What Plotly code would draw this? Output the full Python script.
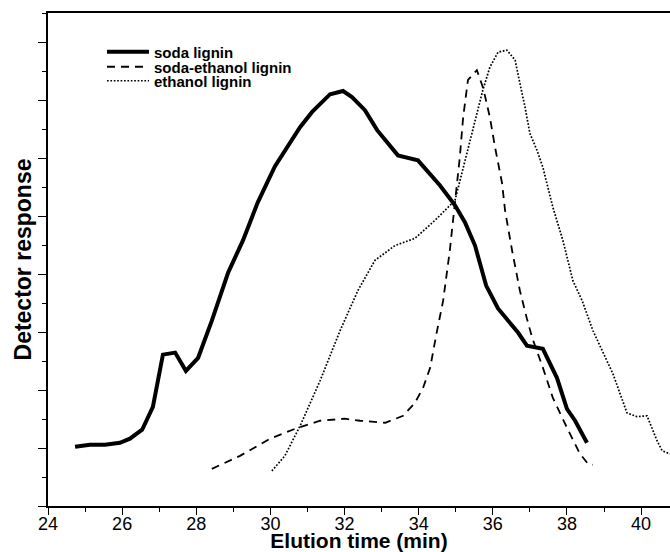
import plotly.graph_objects as go

# soda lignin
soda_x = [24.73, 25.13, 25.54, 25.94, 26.21, 26.54, 26.83, 27.10, 27.43, 27.72, 28.05, 28.42, 28.86,
          29.26, 29.66, 30.12, 30.80, 31.12, 31.61, 31.96, 32.20, 32.55, 32.88, 33.44, 33.98, 34.57,
          34.98, 35.25, 35.52, 35.82, 36.14, 36.68, 36.92, 37.35, 37.73, 38.00, 38.22, 38.54]
soda_y = [2.04, 2.11, 2.11, 2.18, 2.32, 2.63, 3.42, 5.22, 5.29, 4.66, 5.11, 6.39, 8.05,
          9.16, 10.47, 11.71, 13.06, 13.58, 14.20, 14.31, 14.10, 13.65, 12.96, 12.09, 11.92, 11.06,
          10.37, 9.78, 8.98, 7.60, 6.81, 5.98, 5.53, 5.42, 4.42, 3.35, 2.94, 2.18]

# soda-ethanol lignin
se_x = [28.42, 29.18, 29.99, 30.66, 31.34, 32.01, 32.42, 32.96, 33.10, 33.58, 33.90, 34.12, 34.31,
        34.48, 34.66, 34.84, 34.98, 35.11, 35.20, 35.33, 35.57, 35.74, 35.92, 36.06, 36.25, 36.33,
        36.52, 36.73, 36.92, 37.06, 37.35, 37.62, 38.00, 38.35, 38.57, 38.70]
se_y = [1.28, 1.73, 2.32, 2.66, 2.94, 3.01, 2.94, 2.87, 2.87, 3.11, 3.56, 4.08, 4.77,
        5.94, 7.08, 8.81, 10.54, 12.03, 13.41, 14.69, 15.03, 14.41, 13.41, 12.37, 11.13, 10.19,
        8.81, 7.43, 6.46, 5.81, 4.77, 3.73, 2.70, 1.80, 1.45, 1.42]

# ethanol lignin
et_x = [30.04, 30.39, 30.80, 31.34, 31.88, 32.36, 32.82, 33.36, 33.90, 34.44, 34.98, 35.19, 35.38,
        35.57, 35.73, 35.92, 36.14, 36.38, 36.60, 36.73, 36.87, 37.00, 37.19, 37.35, 37.62, 37.89,
        38.16, 38.41, 38.70, 39.24, 39.62, 39.89, 40.16, 40.43, 40.57, 40.78, 41.00]
et_y = [1.21, 1.73, 2.76, 4.32, 6.05, 7.43, 8.47, 8.98, 9.23, 9.85, 10.54, 11.58, 12.61,
        13.55, 14.34, 15.13, 15.65, 15.72, 15.38, 14.58, 13.75, 12.85, 12.27, 11.68, 10.30, 9.16,
        7.77, 7.08, 6.05, 4.56, 3.21, 3.08, 3.11, 2.25, 1.90, 1.80, 1.75]

x_ticks = [24, 26, 28, 30, 32, 34, 36, 38, 40]

fig = go.Figure()
fig.add_trace(go.Scatter(x=soda_x, y=soda_y, mode="lines", name="<b>soda lignin</b>",
                         line=dict(color="black", width=4), legend="legend"))
fig.add_trace(go.Scatter(x=se_x, y=se_y, mode="lines", name="<b>soda-ethanol lignin</b>",
                         line=dict(color="black", width=1.8, dash="8px,6px"), legend="legend2"))
fig.add_trace(go.Scatter(x=et_x, y=et_y, mode="lines", name="<b>ethanol lignin</b>",
                         line=dict(color="black", width=1.7, dash="1.7px,1.7px"), legend="legend3"))

fam = "Liberation Sans, Arial, sans-serif"
axis_font = dict(family=fam, size=18, color="black")
leg_common = dict(xanchor="left", yanchor="middle", font=dict(size=15, family=fam, color="black"),
                  bgcolor="rgba(0,0,0,0)", itemwidth=42)
fig.update_layout(
    width=670, height=552,
    margin=dict(l=48, r=0, t=13, b=46, autoexpand=False),
    paper_bgcolor="white", plot_bgcolor="white",
    font=dict(family=fam, color="black"),
    showlegend=True,
    legend=dict(x=0.0868, y=(506 - 52) / 493, **leg_common),
    legend2=dict(x=0.0868, y=(506 - 67) / 493, **leg_common),
    legend3=dict(x=0.0868, y=(506 - 81) / 493, **leg_common),
    xaxis=dict(range=[24, 40.78], tickvals=x_ticks, ticktext=[str(v) for v in x_ticks],
               showline=True, linecolor="black", linewidth=1.5, mirror=True, automargin=False,
               ticks="outside", ticklen=7, tickwidth=1.2, tickcolor="black", ticklabelstandoff=-6,
               minor=dict(dtick=1, ticks="outside", ticklen=4, tickwidth=1, tickcolor="black"),
               showgrid=False, zeroline=False, tickfont=axis_font,
               title=dict(text="<b>Elution time (min)</b>", font=dict(size=21, color="black"), standoff=2)),
    yaxis=dict(range=[0, 17], dtick=2, tick0=0, showticklabels=False, automargin=False,
               showline=True, linecolor="black", linewidth=1.5, mirror=False,
               ticks="outside", ticklen=8, tickwidth=1.2, tickcolor="black",
               minor=dict(dtick=1, ticks="outside", ticklen=4, tickwidth=1, tickcolor="black"),
               showgrid=False, zeroline=False,
               title=dict(text="<b>Detector response</b>", font=dict(size=23, color="black"), standoff=0)),
)

fig.write_html("out.html", config={"displayModeBar": False},
               post_script="document.body.style.margin='0';")
